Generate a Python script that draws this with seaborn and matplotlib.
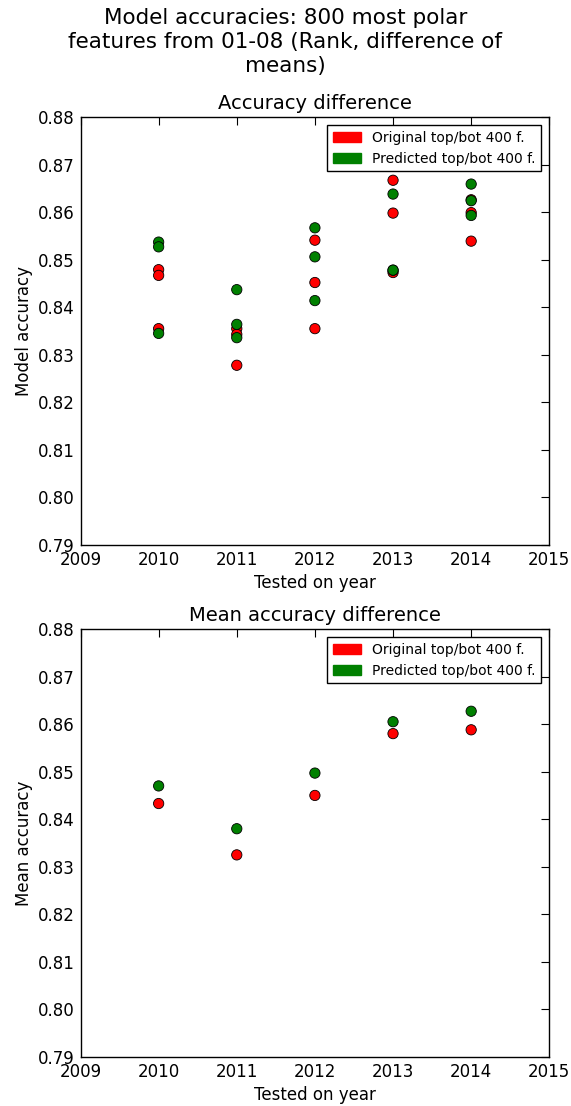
import pandas as pd
import numpy as np
import matplotlib
matplotlib.use("Agg")
import matplotlib.pyplot as plt
from matplotlib.patches import Patch
import seaborn as sns

years = [2010, 2011, 2012, 2013, 2014]
orig_label = "Original top/bot 400 f."
pred_label = "Predicted top/bot 400 f."

# individual model accuracies (three runs per year)
orig_acc = {
    2010: [0.8479, 0.8467, 0.8355],
    2011: [0.8355, 0.8343, 0.8278],
    2012: [0.8541, 0.8452, 0.8355],
    2013: [0.8667, 0.8598, 0.8473],
    2014: [0.8599, 0.8626, 0.8539],
}
pred_acc = {
    2010: [0.8537, 0.8527, 0.8345],
    2011: [0.8437, 0.8364, 0.8336],
    2012: [0.8567, 0.8506, 0.8414],
    2013: [0.8638, 0.8478, 0.8478],
    2014: [0.8659, 0.8624, 0.8593],
}

# mean accuracies
orig_mean = [0.8433, 0.8325, 0.8450, 0.8580, 0.8588]
pred_mean = [0.8470, 0.8380, 0.8497, 0.8605, 0.8627]

rows = []
for y in years:
    for v in orig_acc[y]:
        rows.append({"year": y, "acc": v, "kind": orig_label})
    for v in pred_acc[y]:
        rows.append({"year": y, "acc": v, "kind": pred_label})
df = pd.DataFrame(rows)

df_mean = pd.DataFrame({
    "year": years * 2,
    "acc": orig_mean + pred_mean,
    "kind": [orig_label] * 5 + [pred_label] * 5,
})

sns.set_style("white")
plt.rcParams["font.family"] = ["DejaVu Sans"]
plt.rcParams["xtick.direction"] = "in"
plt.rcParams["ytick.direction"] = "in"
plt.rcParams["text.color"] = "black"
plt.rcParams["axes.labelcolor"] = "black"

palette = {orig_label: "red", pred_label: "green"}

fig = plt.figure(figsize=(5.71, 11.06), dpi=100)
ax1 = fig.add_axes([0.141, 0.5072, 0.821, 0.387])
ax2 = fig.add_axes([0.141, 0.0443, 0.821, 0.387])

def style_axes(ax, data, title, ylabel):
    sns.scatterplot(data=data, x="year", y="acc", hue="kind", palette=palette,
                    s=55, edgecolor="black", linewidth=0.6, ax=ax, legend=False,
                    zorder=3)
    ax.set_xlim(2009, 2015)
    ax.set_ylim(0.79, 0.88)
    ax.set_xticks(range(2009, 2016))
    ax.set_yticks(np.arange(0.79, 0.8801, 0.01))
    ax.xaxis.set_major_formatter(matplotlib.ticker.FormatStrFormatter("%d"))
    ax.yaxis.set_major_formatter(matplotlib.ticker.FormatStrFormatter("%.2f"))
    ax.tick_params(axis="both", which="both", top=True, right=True, length=6,
                   width=0.8, labelsize=12, colors="black", pad=4)
    for sp in ax.spines.values():
        sp.set_visible(True)
        sp.set_color("black")
        sp.set_linewidth(1.0)
    ax.set_title(title, fontsize=14, color="black")
    ax.set_xlabel("Tested on year", fontsize=12)
    ax.set_ylabel(ylabel, fontsize=12)
    handles = [Patch(facecolor="red", edgecolor="red", label=orig_label),
               Patch(facecolor="green", edgecolor="green", label=pred_label)]
    leg = ax.legend(handles=handles, loc="upper right", fontsize=10,
                    fancybox=False, frameon=True, framealpha=1,
                    edgecolor="black", borderaxespad=0.6,
                    handlelength=2.0)
    leg.get_frame().set_linewidth(1.0)
    for t in leg.get_texts():
        t.set_color("black")

style_axes(ax1, df, "Accuracy difference", "Model accuracy")
style_axes(ax2, df_mean, "Mean accuracy difference", "Mean accuracy")

fig.suptitle("Model accuracies: 800 most polar\nfeatures from 01-08 (Rank, difference of\nmeans)",
             fontsize=15.5, y=0.993, linespacing=1.25, color="black")

fig.savefig("out.png", dpi=100)
